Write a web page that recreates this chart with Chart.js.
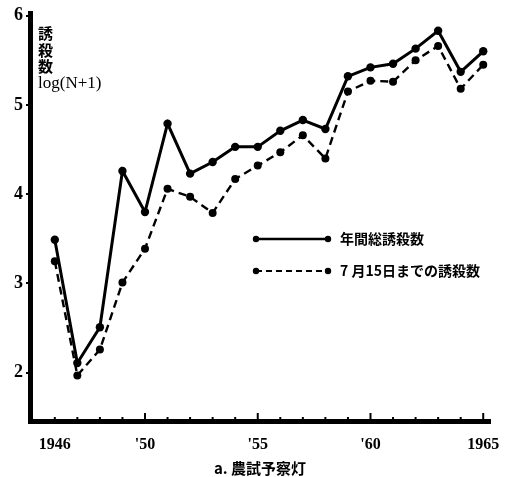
<!DOCTYPE html>
<html>
<head>
<meta charset="utf-8">
<script src="https://cdn.jsdelivr.net/npm/chart.js@4.4.0/dist/chart.umd.min.js"></script>
<style>
  body { margin: 0; background: #fff; }
  #wrap { width: 516px; height: 477px; }
</style>
</head>
<body>
<div id="wrap"><canvas id="myChart" width="516" height="477"></canvas></div>
<script>
// years and the two series, log(N+1)
var years = [1946, 1947, 1948, 1949, 1950, 1951, 1952, 1953, 1954, 1955,
             1956, 1957, 1958, 1959, 1960, 1961, 1962, 1963, 1964, 1965];
var totalCatch = [3.49, 2.11, 2.51, 4.26, 3.80, 4.79, 4.23, 4.36, 4.53, 4.53,
                  4.71, 4.83, 4.73, 5.32, 5.42, 5.46, 5.63, 5.83, 5.37, 5.60];
var julyCatch = [3.25, 1.97, 2.26, 3.01, 3.39, 4.06, 3.97, 3.79, 4.17, 4.32,
                 4.47, 4.66, 4.40, 5.15, 5.27, 5.26, 5.50, 5.66, 5.18, 5.45];
var seriesNames = ["年間総誘殺数", "7 月15日までの誘殺数"];
var xLabelYears = [1946, 1950, 1955, 1960, 1965];
var yTicks = [2, 3, 4, 5, 6];

var serif = "'Liberation Serif', 'DejaVu Serif', serif";
var jp = "'Noto Sans CJK JP', sans-serif";

function toPoints(vals) {
  return years.map(function(y, i){ return {x: y, y: vals[i]}; });
}

var extras = {
  id: 'extras',
  afterDraw: function(chart) {
    var c = chart.ctx;
    var xs = chart.scales.x;
    var area = chart.chartArea;
    c.save();
    // year ticks on the x axis
    c.strokeStyle = '#000';
    c.lineWidth = 2;
    for (var yr = 1946; yr <= 1965; yr++) {
      var px = xs.getPixelForValue(yr);
      var len = (yr % 5 === 0) ? 8 : 4;
      c.beginPath();
      c.moveTo(px, area.bottom);
      c.lineTo(px, area.bottom - len);
      c.stroke();
    }
    // axis label inside the plot
    c.fillStyle = '#000';
    c.textAlign = 'left';
    c.textBaseline = 'middle';
    c.font = "bold 15px " + jp;
    c.fillText("誘", 38, 33);
    c.fillText("殺", 38, 50);
    c.fillText("数", 38, 66);
    c.font = "17px " + serif;
    c.fillText("log(N+1)", 38, 84);
    // legend
    var rows = [{y: 239, dash: []}, {y: 271, dash: [6, 4]}];
    rows.forEach(function(r, i){
      c.setLineDash(r.dash);
      c.lineWidth = i === 0 ? 2.4 : 2.2;
      c.beginPath();
      c.moveTo(256, r.y);
      c.lineTo(328, r.y);
      c.stroke();
      c.setLineDash([]);
      [256, 328].forEach(function(px){
        c.beginPath();
        c.arc(px, r.y, 3.2, 0, Math.PI * 2);
        c.fill();
      });
      c.font = "bold 14px " + jp;
      c.fillText(seriesNames[i], 340, r.y);
    });
    c.restore();
  }
};

var ctx = document.getElementById("myChart");
var myChart = new Chart(ctx, {
  type: 'line',
  data: {
    datasets: [{
      label: seriesNames[0],
      data: toPoints(totalCatch),
      borderColor: '#000',
      backgroundColor: '#000',
      borderWidth: 3,
      pointRadius: 4.2,
      pointBorderWidth: 0,
      tension: 0
    }, {
      label: seriesNames[1],
      data: toPoints(julyCatch),
      borderColor: '#000',
      backgroundColor: '#000',
      borderWidth: 2.4,
      borderDash: [8, 5],
      pointRadius: 4,
      pointBorderWidth: 0,
      tension: 0
    }]
  },
  options: {
    responsive: false,
    animation: false,
    layout: { padding: { top: 10, right: 26, left: 0, bottom: 0 } },
    plugins: { legend: { display: false }, tooltip: { enabled: false } },
    scales: {
      x: {
        type: 'linear',
        min: 1944.9,
        max: 1965.3,
        afterBuildTicks: function(s){ s.ticks = xLabelYears.map(function(v){ return {value: v}; }); },
        afterFit: function(s){ s.height = 56; },
        border: { display: true, width: 5, color: '#000' },
        grid: { display: false },
        ticks: {
          color: '#000',
          font: { family: serif, size: 16, weight: 'bold' },
          padding: 6,
          maxRotation: 0,
          autoSkip: false,
          callback: function(v){
            if (v === 1946 || v === 1965) return String(v);
            return "'" + String(v).slice(2);
          }
        },
        title: {
          display: true,
          text: 'a. 農試予察灯',
          color: '#000',
          font: { family: jp, size: 15, weight: 'bold' },
          padding: { top: 4, bottom: 0 }
        }
      },
      y: {
        min: 1.46,
        max: 6.02,
        afterBuildTicks: function(s){ s.ticks = yTicks.map(function(v){ return {value: v}; }); },
        afterFit: function(s){ s.width = 30; },
        border: { display: true, width: 5, color: '#000' },
        grid: { drawOnChartArea: false, drawTicks: true, tickLength: 4, lineWidth: 2, color: '#000' },
        ticks: {
          color: '#000',
          font: { family: serif, size: 18, weight: 'bold' },
          padding: 3
        }
      }
    }
  },
  plugins: [extras]
});
</script>
</body>
</html>
